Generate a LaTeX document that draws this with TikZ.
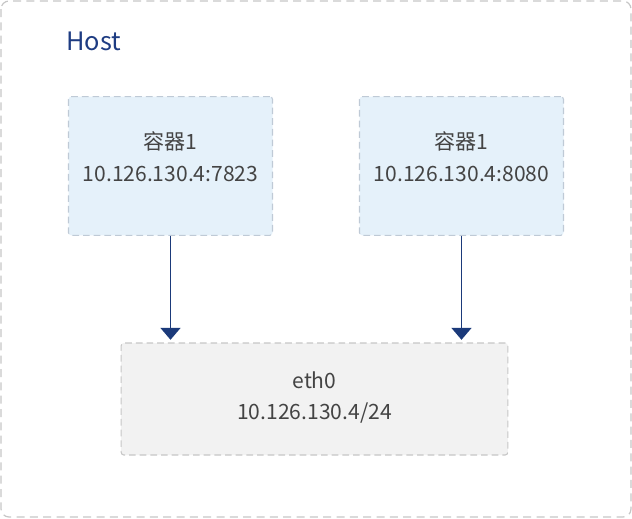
\documentclass[tikz,border=0pt]{standalone}
\usepackage{fontspec}
\setmainfont{Noto Sans CJK SC}
\usepackage{xcolor}
\usetikzlibrary{arrows.meta}
\definecolor{hostblue}{HTML}{1E3C82}
\definecolor{arrblue}{HTML}{1B3A7A}
\definecolor{txtgray}{HTML}{444444}
\definecolor{cfill}{HTML}{E5F1FA}
\definecolor{cline}{HTML}{BFCAD6}
\definecolor{efill}{HTML}{F2F2F2}
\definecolor{eline}{HTML}{C6C6C6}
\tikzset{
    HB/.style ={rectangle,rounded corners=6pt,draw=eline,line width=0.9pt,dash pattern=on 6pt off 4pt},
    RC/.style ={rectangle,rounded corners=2pt,minimum width = 153pt, minimum height =104pt, draw=cline, fill=cfill, line width=0.8pt,dash pattern=on 5pt off 3pt, align=center, text=txtgray, font=\fontsize{15.8}{24}\selectfont},
    RE/.style ={rectangle,rounded corners=2pt,minimum width = 290pt, minimum height =84pt, draw=eline, fill=efill, line width=0.8pt,dash pattern=on 5pt off 3pt, align=center, text=txtgray, font=\fontsize{15.8}{23}\selectfont},
    AR/.style={-{Triangle[width=15pt,length=9pt]},draw=arrblue,fill=arrblue,line width=1.3pt}
}
\begin{document}
\begin{tikzpicture}[x=0.75pt,y=-0.75pt]
        \useasboundingbox (0,0) rectangle (632,518);
        \draw[HB] (1,1) rectangle (631,517);
        \node[anchor=base west,text=hostblue,font=\fontsize{19}{22}\selectfont,inner sep=0pt](host) at (66,50) {Host};
        % extra depth lifts the text a bit, as in the picture
        \node[RC](c1) at (170.5,166) {容器1\\10.126.130.4:7823\rule[-13.5pt]{0pt}{1pt}};
        \node[RC](c2) at (461.5,166) {容器1\\10.126.130.4:8080\rule[-13.5pt]{0pt}{1pt}};
        \node[RE](eth) at (314.5,399) {eth0\\10.126.130.4/24\rule[-5pt]{0pt}{1pt}};
        \draw[AR] (c1.south) -- ([yshift=2pt]c1.south |- eth.north);
        \draw[AR] (c2.south) -- ([yshift=2pt]c2.south |- eth.north);
    \end{tikzpicture}
\end{document}
